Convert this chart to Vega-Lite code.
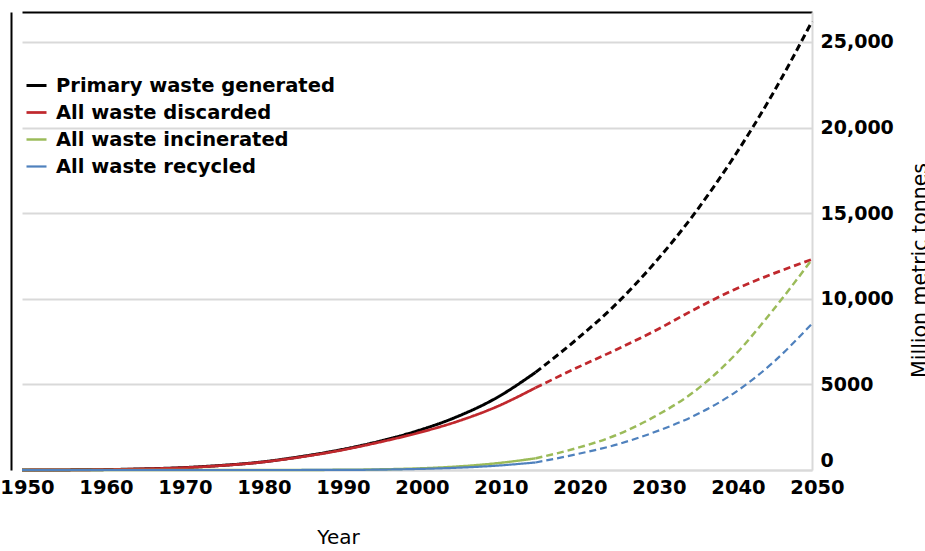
{
  "$schema": "https://vega.github.io/schema/vega-lite/v6.json",
  "autosize": "none",
  "width": 790,
  "height": 458,
  "padding": {"left": 22, "top": 12, "right": 113, "bottom": 81},
  "background": "white",
  "config": {
    "view": {"stroke": null},
    "font": "DejaVu Sans"
  },
  "data": {
    "values": [
      {"year": 1950, "series": "Primary waste generated", "period": "historical", "value": 0},
      {"year": 1955, "series": "Primary waste generated", "period": "historical", "value": 5},
      {"year": 1960, "series": "Primary waste generated", "period": "historical", "value": 20},
      {"year": 1965, "series": "Primary waste generated", "period": "historical", "value": 60},
      {"year": 1970, "series": "Primary waste generated", "period": "historical", "value": 130},
      {"year": 1975, "series": "Primary waste generated", "period": "historical", "value": 260},
      {"year": 1980, "series": "Primary waste generated", "period": "historical", "value": 450},
      {"year": 1985, "series": "Primary waste generated", "period": "historical", "value": 760},
      {"year": 1990, "series": "Primary waste generated", "period": "historical", "value": 1150},
      {"year": 1995, "series": "Primary waste generated", "period": "historical", "value": 1650},
      {"year": 2000, "series": "Primary waste generated", "period": "historical", "value": 2280},
      {"year": 2005, "series": "Primary waste generated", "period": "historical", "value": 3100},
      {"year": 2010, "series": "Primary waste generated", "period": "historical", "value": 4200},
      {"year": 2015, "series": "Primary waste generated", "period": "historical", "value": 5700},
      {"year": 2015, "series": "Primary waste generated", "period": "projected", "value": 5700},
      {"year": 2020, "series": "Primary waste generated", "period": "projected", "value": 7550},
      {"year": 2025, "series": "Primary waste generated", "period": "projected", "value": 9600},
      {"year": 2030, "series": "Primary waste generated", "period": "projected", "value": 12050},
      {"year": 2035, "series": "Primary waste generated", "period": "projected", "value": 14900},
      {"year": 2040, "series": "Primary waste generated", "period": "projected", "value": 18200},
      {"year": 2045, "series": "Primary waste generated", "period": "projected", "value": 21950},
      {"year": 2050, "series": "Primary waste generated", "period": "projected", "value": 26200},

      {"year": 1950, "series": "All waste discarded", "period": "historical", "value": 0},
      {"year": 1955, "series": "All waste discarded", "period": "historical", "value": 5},
      {"year": 1960, "series": "All waste discarded", "period": "historical", "value": 20},
      {"year": 1965, "series": "All waste discarded", "period": "historical", "value": 60},
      {"year": 1970, "series": "All waste discarded", "period": "historical", "value": 125},
      {"year": 1975, "series": "All waste discarded", "period": "historical", "value": 250},
      {"year": 1980, "series": "All waste discarded", "period": "historical", "value": 440},
      {"year": 1985, "series": "All waste discarded", "period": "historical", "value": 740},
      {"year": 1990, "series": "All waste discarded", "period": "historical", "value": 1120},
      {"year": 1995, "series": "All waste discarded", "period": "historical", "value": 1600},
      {"year": 2000, "series": "All waste discarded", "period": "historical", "value": 2150},
      {"year": 2005, "series": "All waste discarded", "period": "historical", "value": 2820},
      {"year": 2010, "series": "All waste discarded", "period": "historical", "value": 3680},
      {"year": 2015, "series": "All waste discarded", "period": "historical", "value": 4800},
      {"year": 2015, "series": "All waste discarded", "period": "projected", "value": 4800},
      {"year": 2020, "series": "All waste discarded", "period": "projected", "value": 5920},
      {"year": 2025, "series": "All waste discarded", "period": "projected", "value": 6980},
      {"year": 2030, "series": "All waste discarded", "period": "projected", "value": 8100},
      {"year": 2035, "series": "All waste discarded", "period": "projected", "value": 9350},
      {"year": 2040, "series": "All waste discarded", "period": "projected", "value": 10500},
      {"year": 2045, "series": "All waste discarded", "period": "projected", "value": 11450},
      {"year": 2050, "series": "All waste discarded", "period": "projected", "value": 12300},

      {"year": 1950, "series": "All waste incinerated", "period": "historical", "value": 0},
      {"year": 1960, "series": "All waste incinerated", "period": "historical", "value": 0},
      {"year": 1970, "series": "All waste incinerated", "period": "historical", "value": 0},
      {"year": 1980, "series": "All waste incinerated", "period": "historical", "value": 0},
      {"year": 1985, "series": "All waste incinerated", "period": "historical", "value": 3},
      {"year": 1990, "series": "All waste incinerated", "period": "historical", "value": 10},
      {"year": 1995, "series": "All waste incinerated", "period": "historical", "value": 35},
      {"year": 2000, "series": "All waste incinerated", "period": "historical", "value": 90},
      {"year": 2005, "series": "All waste incinerated", "period": "historical", "value": 200},
      {"year": 2010, "series": "All waste incinerated", "period": "historical", "value": 390},
      {"year": 2015, "series": "All waste incinerated", "period": "historical", "value": 680},
      {"year": 2015, "series": "All waste incinerated", "period": "projected", "value": 680},
      {"year": 2020, "series": "All waste incinerated", "period": "projected", "value": 1250},
      {"year": 2025, "series": "All waste incinerated", "period": "projected", "value": 2000},
      {"year": 2030, "series": "All waste incinerated", "period": "projected", "value": 3100},
      {"year": 2035, "series": "All waste incinerated", "period": "projected", "value": 4550},
      {"year": 2040, "series": "All waste incinerated", "period": "projected", "value": 6600},
      {"year": 2045, "series": "All waste incinerated", "period": "projected", "value": 9300},
      {"year": 2050, "series": "All waste incinerated", "period": "projected", "value": 12300},

      {"year": 1950, "series": "All waste recycled", "period": "historical", "value": 0},
      {"year": 1960, "series": "All waste recycled", "period": "historical", "value": 0},
      {"year": 1970, "series": "All waste recycled", "period": "historical", "value": 0},
      {"year": 1980, "series": "All waste recycled", "period": "historical", "value": 0},
      {"year": 1990, "series": "All waste recycled", "period": "historical", "value": 5},
      {"year": 1995, "series": "All waste recycled", "period": "historical", "value": 20},
      {"year": 2000, "series": "All waste recycled", "period": "historical", "value": 60},
      {"year": 2005, "series": "All waste recycled", "period": "historical", "value": 130},
      {"year": 2010, "series": "All waste recycled", "period": "historical", "value": 250},
      {"year": 2015, "series": "All waste recycled", "period": "historical", "value": 440},
      {"year": 2015, "series": "All waste recycled", "period": "projected", "value": 440},
      {"year": 2020, "series": "All waste recycled", "period": "projected", "value": 900},
      {"year": 2025, "series": "All waste recycled", "period": "projected", "value": 1450},
      {"year": 2030, "series": "All waste recycled", "period": "projected", "value": 2200},
      {"year": 2035, "series": "All waste recycled", "period": "projected", "value": 3150},
      {"year": 2040, "series": "All waste recycled", "period": "projected", "value": 4450},
      {"year": 2045, "series": "All waste recycled", "period": "projected", "value": 6250},
      {"year": 2050, "series": "All waste recycled", "period": "projected", "value": 8550}
    ]
  },
  "layer": [
    {
      "mark": {"type": "line", "interpolate": "monotone"},
      "encoding": {
        "x": {
          "field": "year",
          "type": "quantitative",
          "scale": {"domain": [1950, 2050], "nice": false, "zero": false},
          "axis": {
            "orient": "bottom",
            "values": [1950, 1960, 1970, 1980, 1990, 2000, 2010, 2020, 2030, 2040, 2050],
            "format": "d",
            "grid": false,
            "ticks": false,
            "domainColor": "#d9d9d9",
            "domainWidth": 2,
            "labelFont": "DejaVu Sans",
            "labelFontWeight": "bold",
            "labelFontSize": 19.5,
            "labelColor": "#000000",
            "labelPadding": 8,
            "labelOffset": 5,
            "labelFlush": false,
            "labelOverlap": false,
            "title": "Year",
            "titleFont": "DejaVu Sans",
            "titleFontWeight": "normal",
            "titleFontSize": 20,
            "titleColor": "#000000",
            "titleX": 316,
            "titleY": 57,
            "titleAlign": "center",
            "titleBaseline": "top"
          }
        },
        "y": {
          "field": "value",
          "type": "quantitative",
          "scale": {"domain": [0, 26750], "nice": false},
          "axis": {
            "orient": "right",
            "values": [0, 5000, 10000, 15000, 20000, 25000],
            "labelExpr": "datum.value == 5000 ? '5000' : format(datum.value, ',')",
            "grid": true,
            "gridColor": "#d9d9d9",
            "gridWidth": 2,
            "ticks": false,
            "domainColor": "#d9d9d9",
            "domainWidth": 2,
            "labelFont": "DejaVu Sans",
            "labelFontWeight": "bold",
            "labelFontSize": 19,
            "labelColor": "#000000",
            "labelPadding": 8,
            "labelAlign": "left",
            "labelBaseline": {"condition": {"test": "datum.value == 0", "value": "bottom"}, "value": "middle"},
            "title": "Million metric tonnes",
            "titleFont": "DejaVu Sans",
            "titleFontWeight": "normal",
            "titleFontSize": 20.5,
            "titleColor": "#000000",
            "titleAngle": 270,
            "titleAlign": "center",
            "titleBaseline": "alphabetic",
            "titleX": 114,
            "titleY": 258
          }
        },
        "color": {
          "field": "series",
          "type": "nominal",
          "scale": {
            "domain": ["Primary waste generated", "All waste discarded", "All waste incinerated", "All waste recycled"],
            "range": ["#000000", "#c0282d", "#9bbb59", "#4f81bd"]
          },
          "legend": {
            "title": null,
            "orient": "none",
            "legendX": 3,
            "legendY": 62,
            "symbolType": "stroke",
            "symbolSize": 400,
            "symbolStrokeWidth": 2,
            "labelFont": "DejaVu Sans",
            "labelFontWeight": "bold",
            "labelFontSize": 19.5,
            "labelColor": "#000000",
            "labelOffset": 8,
            "rowPadding": 6,
            "labelLimit": 400
          }
        },
        "strokeDash": {
          "field": "period",
          "type": "nominal",
          "scale": {"domain": ["historical", "projected"], "range": [[1, 0], [7, 4]]},
          "legend": null
        },
        "strokeWidth": {
          "field": "series",
          "type": "nominal",
          "scale": {
            "domain": ["Primary waste generated", "All waste discarded", "All waste incinerated", "All waste recycled"],
            "range": [3, 2.2, 2, 2]
          },
          "legend": null
        },
        "detail": {"field": "period"}
      }
    },
    {
      "mark": {"type": "line", "opacity": 0},
      "encoding": {
        "x": {
          "field": "year",
          "type": "quantitative",
          "axis": {
            "orient": "top",
            "labels": false,
            "ticks": false,
            "grid": false,
            "title": null,
            "domainColor": "#000000",
            "domainWidth": 2
          }
        },
        "y": {
          "field": "value",
          "type": "quantitative",
          "axis": {
            "orient": "left",
            "labels": false,
            "ticks": false,
            "grid": false,
            "title": null,
            "offset": 11,
            "domainColor": "#000000",
            "domainWidth": 2
          }
        },
        "detail": {"field": "series"}
      }
    }
  ],
  "resolve": {"axis": {"x": "independent", "y": "independent"}}
}
